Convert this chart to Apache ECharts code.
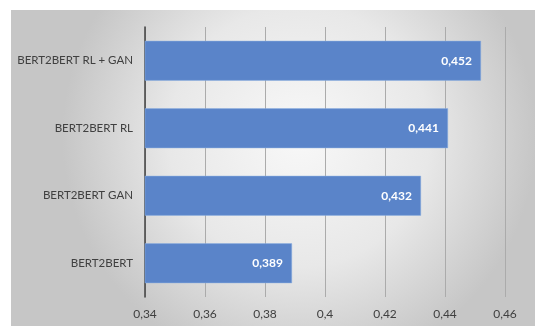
<!DOCTYPE html>
<html><head><meta charset="utf-8">
<script src="https://cdn.jsdelivr.net/npm/echarts@6/dist/echarts.min.js"></script>
<style>html,body{margin:0;padding:0;background:#fff}#c{width:535px;height:326px}</style>
</head><body><div id="c"></div>
<script>
const categories = ['BERT2BERT', 'BERT2BERT GAN', 'BERT2BERT RL', 'BERT2BERT RL + GAN'];
const values = [0.389, 0.432, 0.441, 0.452];
const xTicks = [0.34, 0.36, 0.38, 0.40, 0.42, 0.44, 0.46];
const fmt = v => String(Math.round(v * 1000) / 1000).replace('.', ',');
const chart = echarts.init(document.getElementById('c'));
chart.setOption({
  animation: false,
  graphic: [{
    type: 'rect', z: -10, silent: true,
    shape: { x: 11, y: 10, width: 524, height: 316 },
    style: { fill: new echarts.graphic.RadialGradient(0.55, 0.4, 0.75, [
      { offset: 0, color: '#f8f8f8' },
      { offset: 0.55, color: '#e8e8e8' },
      { offset: 1, color: '#c6c6c6' }
    ]) }
  }],
  grid: { left: 145, right: 30, top: 27, bottom: 29, containLabel: false },
  xAxis: {
    type: 'value', min: xTicks[0], max: xTicks[xTicks.length - 1], interval: 0.02,
    axisLine: { show: false }, axisTick: { show: false },
    splitLine: { show: true, lineStyle: { color: '#ababab', width: 1 } },
    axisLabel: { color: '#404040', fontSize: 12, fontFamily: 'Lato', margin: 11, formatter: v => fmt(v) }
  },
  yAxis: {
    type: 'category', data: categories,
    axisLine: { show: true, lineStyle: { color: '#404040', width: 1.5 } },
    axisTick: { show: false },
    axisLabel: { color: '#404040', fontSize: 11.5, fontFamily: 'Lato', margin: 12 }
  },
  series: [{
    type: 'bar', data: values, barCategoryGap: '41%',
    itemStyle: { color: '#5a84c9', borderColor: '#8fb0e0', borderWidth: 0.5 },
    label: { show: true, position: 'insideRight', distance: 9, color: '#fff', fontWeight: 'bold', fontSize: 12, fontFamily: 'Lato', formatter: p => fmt(p.value) }
  }]
});
</script></body></html>
